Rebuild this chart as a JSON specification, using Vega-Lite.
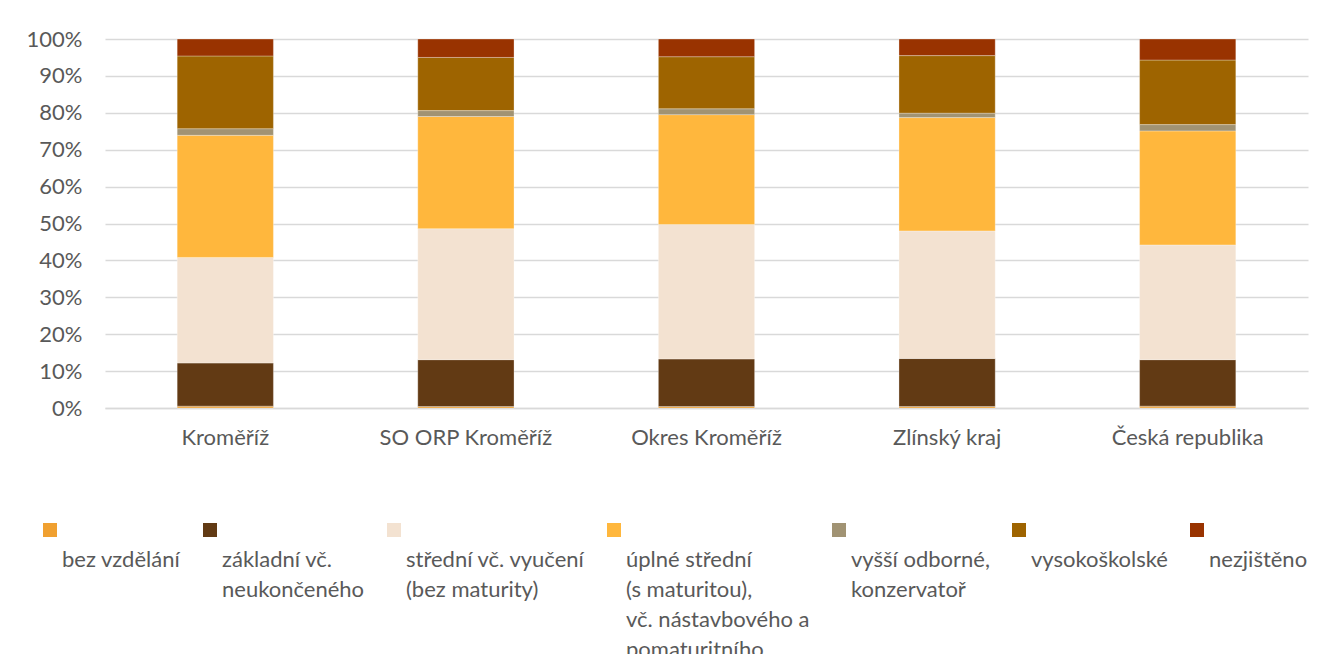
{
  "$schema": "https://vega.github.io/schema/vega-lite/v6.json",
  "width": 1203,
  "height": 369,
  "autosize": {"type": "none"},
  "padding": {"left": 105, "top": 39, "right": 17, "bottom": 246},
  "background": "#ffffff",
  "config": {
    "font": "Lato",
    "view": {"stroke": null},
    "style": {"guide-label": {"lineHeight": 30}},
    "axis": {"labelColor": "#595959", "labelFontSize": 22, "labelFont": "Lato", "ticks": false, "title": null}
  },
  "data": {
    "values": [
      {"r": "Kroměříž", "k": "bez vzdělání", "v": 0.5},
      {"r": "Kroměříž", "k": "základní vč. neukončeného", "v": 11.7},
      {"r": "Kroměříž", "k": "střední vč. vyučení (bez maturity)", "v": 28.6},
      {"r": "Kroměříž", "k": "úplné střední (s maturitou), vč. nástavbového a pomaturitního", "v": 33.1},
      {"r": "Kroměříž", "k": "vyšší odborné, konzervatoř", "v": 1.8},
      {"r": "Kroměříž", "k": "vysokoškolské", "v": 19.7},
      {"r": "Kroměříž", "k": "nezjištěno", "v": 4.6},
      {"r": "SO ORP Kroměříž", "k": "bez vzdělání", "v": 0.4},
      {"r": "SO ORP Kroměříž", "k": "základní vč. neukončeného", "v": 12.7},
      {"r": "SO ORP Kroměříž", "k": "střední vč. vyučení (bez maturity)", "v": 35.5},
      {"r": "SO ORP Kroměříž", "k": "úplné střední (s maturitou), vč. nástavbového a pomaturitního", "v": 30.4},
      {"r": "SO ORP Kroměříž", "k": "vyšší odborné, konzervatoř", "v": 1.6},
      {"r": "SO ORP Kroměříž", "k": "vysokoškolské", "v": 14.4},
      {"r": "SO ORP Kroměříž", "k": "nezjištěno", "v": 5.0},
      {"r": "Okres Kroměříž", "k": "bez vzdělání", "v": 0.4},
      {"r": "Okres Kroměříž", "k": "základní vč. neukončeného", "v": 12.9},
      {"r": "Okres Kroměříž", "k": "střední vč. vyučení (bez maturity)", "v": 36.4},
      {"r": "Okres Kroměříž", "k": "úplné střední (s maturitou), vč. nástavbového a pomaturitního", "v": 29.8},
      {"r": "Okres Kroměříž", "k": "vyšší odborné, konzervatoř", "v": 1.6},
      {"r": "Okres Kroměříž", "k": "vysokoškolské", "v": 14.1},
      {"r": "Okres Kroměříž", "k": "nezjištěno", "v": 4.8},
      {"r": "Zlínský kraj", "k": "bez vzdělání", "v": 0.4},
      {"r": "Zlínský kraj", "k": "základní vč. neukončeného", "v": 13.0},
      {"r": "Zlínský kraj", "k": "střední vč. vyučení (bez maturity)", "v": 34.6},
      {"r": "Zlínský kraj", "k": "úplné střední (s maturitou), vč. nástavbového a pomaturitního", "v": 30.7},
      {"r": "Zlínský kraj", "k": "vyšší odborné, konzervatoř", "v": 1.2},
      {"r": "Zlínský kraj", "k": "vysokoškolské", "v": 15.6},
      {"r": "Zlínský kraj", "k": "nezjištěno", "v": 4.5},
      {"r": "Česká republika", "k": "bez vzdělání", "v": 0.5},
      {"r": "Česká republika", "k": "základní vč. neukončeného", "v": 12.6},
      {"r": "Česká republika", "k": "střední vč. vyučení (bez maturity)", "v": 31.1},
      {"r": "Česká republika", "k": "úplné střední (s maturitou), vč. nástavbového a pomaturitního", "v": 30.9},
      {"r": "Česká republika", "k": "vyšší odborné, konzervatoř", "v": 1.7},
      {"r": "Česká republika", "k": "vysokoškolské", "v": 17.5},
      {"r": "Česká republika", "k": "nezjištěno", "v": 5.7}
    ]
  },
  "transform": [
    {"calculate": "indexof(['bez vzdělání','základní vč. neukončeného','střední vč. vyučení (bez maturity)','úplné střední (s maturitou), vč. nástavbového a pomaturitního','vyšší odborné, konzervatoř','vysokoškolské','nezjištěno'], datum.k)", "as": "o"}
  ],
  "mark": {"type": "bar", "stroke": "#ffffff", "strokeOpacity": 0.4, "strokeWidth": 0.75},
  "encoding": {
    "x": {
      "field": "r", "type": "nominal", "sort": null,
      "scale": {"paddingInner": 0.6, "paddingOuter": 0.3},
      "axis": {"labelAngle": 0, "labelPadding": 19, "domainColor": "#d9d9d9", "domainWidth": 1.5, "grid": false}
    },
    "y": {
      "field": "v", "type": "quantitative", "stack": "zero",
      "scale": {"domain": [0, 100], "nice": false},
      "axis": {"values": [0,10,20,30,40,50,60,70,80,90,100], "labelExpr": "datum.value + '%'", "domain": false, "gridColor": "#d9d9d9", "gridWidth": 1.5, "labelPadding": 23}
    },
    "order": {"field": "o", "type": "quantitative"},
    "color": {
      "field": "k", "type": "nominal",
      "scale": {
        "domain": ["bez vzdělání", "základní vč. neukončeného", "střední vč. vyučení (bez maturity)", "úplné střední (s maturitou), vč. nástavbového a pomaturitního", "vyšší odborné, konzervatoř", "vysokoškolské", "nezjištěno"],
        "range": ["#F0A030", "#623A14", "#F3E2D1", "#FFB73D", "#A19373", "#9E6400", "#993300"]
      },
      "legend": {
        "title": null,
        "orient": "none",
        "padding": 0,
        "legendX": -66,
        "legendY": 480,
        "direction": "horizontal",
        "columns": 7,
        "columnPadding": 18,
        "symbolType": "square",
        "symbolSize": 196,
        "symbolStrokeWidth": 0,
        "labelOffset": 1,
        "labelFontSize": 22,
        "labelColor": "#595959",
        "labelLimit": 400,
        "labelBaseline": "middle",
        "labelExpr": "datum.label == 'bez vzdělání' ? ['', 'bez vzdělání', '', '', '', '', ''] : datum.label == 'základní vč. neukončeného' ? ['', 'základní vč.', 'neukončeného', '', '', '', ''] : datum.label == 'střední vč. vyučení (bez maturity)' ? ['', 'střední vč. vyučení', '(bez maturity)', '', '', '', ''] : datum.label == 'úplné střední (s maturitou), vč. nástavbového a pomaturitního' ? ['', 'úplné  střední', '\u00a0(s maturitou),', 'vč. nástavbového a', 'pomaturitního', '', ''] : datum.label == 'vyšší odborné, konzervatoř' ? ['', 'vyšší odborné,', 'konzervatoř', '', '', '', ''] : ['', datum.label, '', '', '', '', '']"
      }
    }
  }
}
